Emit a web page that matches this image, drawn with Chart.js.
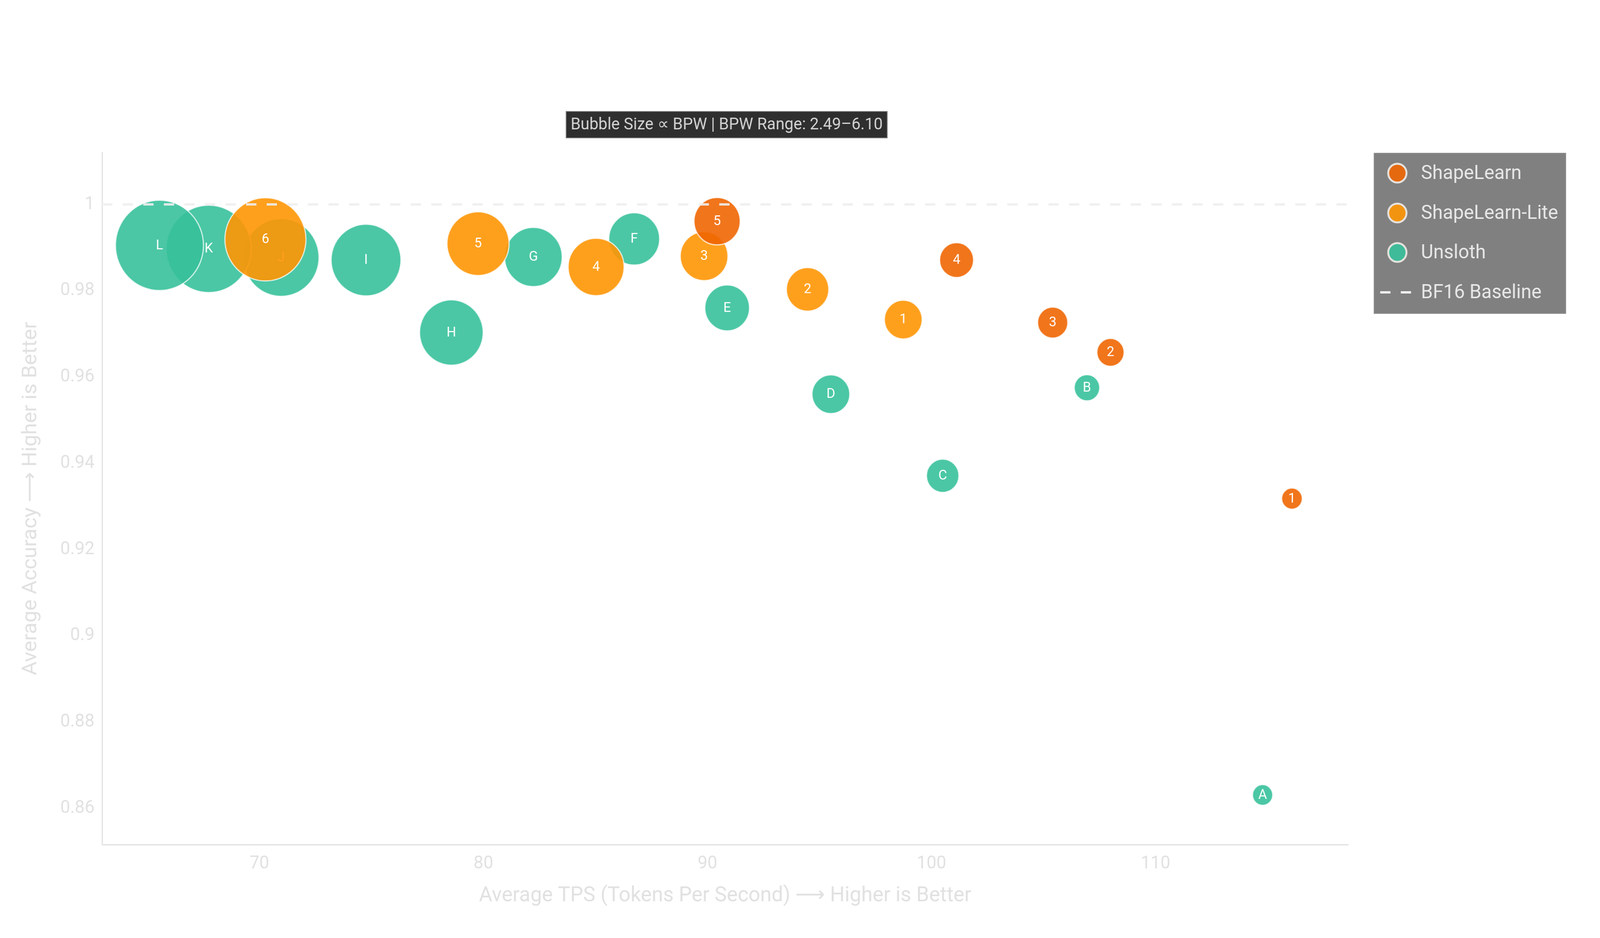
<!DOCTYPE html>
<html lang="en">
<head>
<meta charset="UTF-8">
<title>Average TPS vs Average Accuracy</title>
<script src="https://cdn.jsdelivr.net/npm/chart.js@4"></script>
<style>
    html, body { margin: 0; padding: 0; background: #ffffff; overflow: hidden; }
    #chart { display: block; }
</style>
</head>
<body>
<canvas id="chart" width="4200" height="2400"></canvas>
<script>
// ShapeLearn
const SL_LABELS = ['1', '2', '3', '4', '5'];
const SL_TPS = [116.09, 107.99, 105.41, 101.12, 90.43];
const SL_ACC = [0.9318, 0.9657, 0.9726, 0.9871, 0.9961];
const SL_BPW = [2.51, 2.86, 3.02, 3.22, 3.87];

// ShapeLearn-Lite
const LITE_LABELS = ['1', '2', '3', '4', '5', '6'];
const LITE_TPS = [98.74, 94.47, 89.85, 85.03, 79.76, 70.27];
const LITE_ACC = [0.9733, 0.9803, 0.9880, 0.9855, 0.9909, 0.9919];
const LITE_BPW = [3.42, 3.67, 3.95, 4.39, 4.72, 5.73];

// Unsloth
const UNS_LABELS = ['A', 'B', 'C', 'D', 'E', 'F', 'G', 'H', 'I', 'J', 'K', 'L'];
const UNS_TPS = [114.78, 106.94, 100.50, 95.51, 90.88, 86.73, 82.23, 78.57, 74.76, 70.97, 67.74, 65.54];
const UNS_ACC = [0.8631, 0.9575, 0.9371, 0.9560, 0.9760, 0.9920, 0.9878, 0.9703, 0.9871, 0.9877, 0.9897, 0.9905];
const UNS_BPW = [2.49, 2.77, 3.14, 3.42, 3.79, 4.12, 4.48, 4.80, 5.13, 5.45, 5.95, 6.10];

// baseline + axes
const BASELINE = 1;
const X_TICKS = [70, 80, 90, 100, 110];
const Y_TICKS = [0.86, 0.88, 0.9, 0.92, 0.94, 0.96, 0.98, 1];
const X_RANGE = [62.98, 118.6];
const Y_RANGE = [0.8516, 1.01205];

const FONT = 'Roboto, "DejaVu Sans", sans-serif';
const AXIS_GRAY = '#e1e1e1';

const ALL_BPW = SL_BPW.concat(LITE_BPW, UNS_BPW);
const BPW_MIN = Math.min(...ALL_BPW);
const BPW_MAX = Math.max(...ALL_BPW);

// the window may be narrower than 4200, so squeeze the canvas to fit it
const canvas = document.getElementById('chart');
canvas.style.width = Math.min(window.innerWidth || 4200, 4200) + 'px';
canvas.style.height = Math.min(window.innerHeight || 2400, 2400) + 'px';

// bubble radius grows linearly with BPW
function radiusFor(bpw) {
    return 26.5 + (bpw - BPW_MIN) / (BPW_MAX - BPW_MIN) * 89;
}

function bubbles(tps, acc, bpw) {
    return tps.map((x, i) => ({ x: x, y: acc[i], r: radiusFor(bpw[i]) }));
}

const COLORS = {
    sl: 'rgba(239, 102, 2, 0.9)',
    lite: 'rgba(255, 150, 4, 0.9)',
    uns: 'rgba(55, 193, 155, 0.9)'
};

// labels in the bubbles, drawn right after their own dataset
const bubbleLabels = {
    id: 'bubbleLabels',
    afterDatasetDraw(chart, args) {
        const ds = chart.data.datasets[args.index];
        if (!ds.pointLabels) return;
        const ctx = chart.ctx;
        ctx.save();
        ctx.fillStyle = '#ffffff';
        ctx.font = '35px ' + FONT;
        ctx.textAlign = 'center';
        ctx.textBaseline = 'middle';
        args.meta.data.forEach((el, i) => {
            ctx.fillText(ds.pointLabels[i], el.x, el.y + 1);
        });
        ctx.restore();
    }
};

// dark caption box above the plot
const captionBox = {
    id: 'captionBox',
    afterDraw(chart) {
        const ctx = chart.ctx;
        const area = chart.chartArea;
        const text = 'Bubble Size \u221D BPW | BPW Range: ' + BPW_MIN.toFixed(2) + '\u2013' + BPW_MAX.toFixed(2);
        ctx.save();
        ctx.font = '42px ' + FONT;
        const w = ctx.measureText(text).width + 24;
        const cx = (area.left + area.right) / 2 + 4;
        const x0 = cx - w / 2, y0 = 285, h = 68;
        ctx.fillStyle = '#2f2f2f';
        ctx.fillRect(x0, y0, w, h);
        ctx.strokeStyle = '#8a8a8a';
        ctx.lineWidth = 2;
        ctx.strokeRect(x0, y0, w, h);
        ctx.fillStyle = '#d4d4d4';
        ctx.textAlign = 'center';
        ctx.textBaseline = 'middle';
        ctx.fillText(text, cx, y0 + h / 2 + 1);
        ctx.restore();
    }
};

// legend in a grey box right of the plot
const legendBox = {
    id: 'legendBox',
    afterDraw(chart) {
        const ctx = chart.ctx;
        const area = chart.chartArea;
        const x0 = area.right + 68, y0 = area.top + 2;
        const w = 503, h = 410;
        const rows = [51, 153, 254, 356];
        ctx.save();
        ctx.fillStyle = '#808080';
        ctx.fillRect(x0, y0, w, h);
        ctx.strokeStyle = '#8e8e8e';
        ctx.lineWidth = 2;
        ctx.strokeRect(x0, y0, w, h);

        ctx.font = '50px ' + FONT;
        ctx.textAlign = 'left';
        ctx.textBaseline = 'middle';
        chart.data.datasets.forEach((ds, i) => {
            const y = y0 + rows[i];
            if (ds.type === 'line') {
                ctx.strokeStyle = '#f0f0f0';
                ctx.lineWidth = 6;
                ctx.setLineDash([27, 27]);
                ctx.beginPath();
                ctx.moveTo(x0 + 16, y);
                ctx.lineTo(x0 + 97, y);
                ctx.stroke();
                ctx.setLineDash([]);
            } else {
                ctx.beginPath();
                ctx.arc(x0 + 61, y, 24, 0, Math.PI * 2);
                ctx.fillStyle = ds.backgroundColor;
                ctx.fill();
                ctx.strokeStyle = '#e6e2de';
                ctx.lineWidth = 5;
                ctx.stroke();
            }
            ctx.fillStyle = '#e8e8e8';
            ctx.fillText(ds.label, x0 + 123, y + 2);
        });
        ctx.restore();
    }
};

const bubbleStyle = {
    borderColor: 'rgba(255, 255, 255, 0.75)',
    borderWidth: 3,
    clip: false
};

new Chart(canvas, {
    type: 'bubble',
    data: {
        datasets: [
            Object.assign({
                label: 'ShapeLearn',
                data: bubbles(SL_TPS, SL_ACC, SL_BPW),
                pointLabels: SL_LABELS,
                backgroundColor: COLORS.sl
            }, bubbleStyle),
            Object.assign({
                label: 'ShapeLearn-Lite',
                data: bubbles(LITE_TPS, LITE_ACC, LITE_BPW),
                pointLabels: LITE_LABELS,
                backgroundColor: COLORS.lite
            }, bubbleStyle),
            Object.assign({
                label: 'Unsloth',
                data: bubbles(UNS_TPS, UNS_ACC, UNS_BPW),
                pointLabels: UNS_LABELS,
                backgroundColor: COLORS.uns
            }, bubbleStyle),
            {
                type: 'line',
                label: 'BF16 Baseline',
                data: [{ x: X_RANGE[0], y: BASELINE }, { x: X_RANGE[1], y: BASELINE }],
                borderColor: 'rgba(238, 238, 238, 0.9)',
                borderWidth: 6,
                borderDash: [27, 27],
                pointRadius: 0,
                fill: false,
                order: -1
            }
        ]
    },
    options: {
        responsive: false,
        devicePixelRatio: 1,
        animation: false,
        events: [],
        layout: { padding: { top: 390, right: 661, left: 0, bottom: 0 } },
        font: { family: FONT },
        scales: {
            x: {
                type: 'linear',
                min: X_RANGE[0],
                max: X_RANGE[1],
                afterFit: s => { s.height = 239; },
                afterBuildTicks: s => { s.ticks = X_TICKS.map(v => ({ value: v })); },
                grid: { display: false },
                border: { display: true, color: AXIS_GRAY, width: 3 },
                ticks: {
                    color: AXIS_GRAY,
                    font: { family: FONT, size: 46 },
                    padding: 14,
                    maxRotation: 0
                },
                title: {
                    display: true,
                    text: 'Average TPS (Tokens Per Second) \u27F6 Higher is Better',
                    color: AXIS_GRAY,
                    font: { family: FONT, size: 54 },
                    padding: { top: 0, bottom: 75 }
                }
            },
            y: {
                type: 'linear',
                min: Y_RANGE[0],
                max: Y_RANGE[1],
                afterFit: s => { s.width = 268; },
                afterBuildTicks: s => { s.ticks = Y_TICKS.map(v => ({ value: v })); },
                grid: { display: false },
                border: { display: true, color: AXIS_GRAY, width: 3 },
                ticks: {
                    color: AXIS_GRAY,
                    font: { family: FONT, size: 46 },
                    padding: 12,
                    callback: v => String(v)
                },
                title: {
                    display: true,
                    text: 'Average Accuracy \u27F6 Higher is Better',
                    color: AXIS_GRAY,
                    font: { family: FONT, size: 54 },
                    padding: { top: 49, bottom: 0 }
                }
            }
        },
        plugins: {
            legend: { display: false },
            tooltip: { enabled: false }
        }
    },
    plugins: [bubbleLabels, captionBox, legendBox]
});
</script>
</body>
</html>
